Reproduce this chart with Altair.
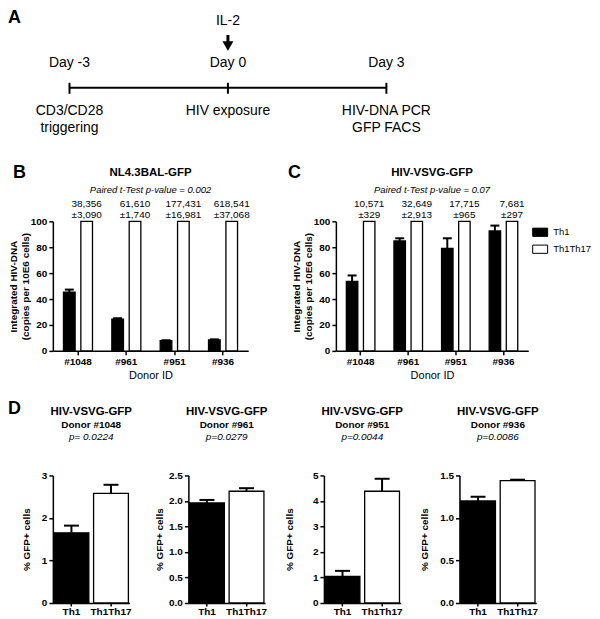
import altair as alt
import pandas as pd

FONT = "Liberation Sans"

# ---------------- Panel A : timeline ----------------
days = [-3, 0, 3]
day_labels = ["Day -3", "Day 0", "Day 3"]
event_line1 = ["CD3/CD28", "HIV exposure", "HIV-DNA PCR"]
event_line2 = ["triggering", "", "GFP FACS"]
il2_day = [0]
il2_label = ["IL-2"]

# ---------------- Panels B & C ----------------
donors = ["#1048", "#961", "#951", "#936"]
cell_types = ["Th1", "Th1Th17"]

b_th1 = [45.4, 24.4, 7.8, 8.5]
b_th1_err = [1.9, 0.8, 0.4, 0.4]
b_th1th17 = [100, 100, 100, 100]
b_copies = ["38,356", "61,610", "177,431", "618,541"]
b_sd = ["±3,090", "±1,740", "±16,981", "±37,068"]

c_th1 = [53.6, 84.9, 79.0, 92.6]
c_th1_err = [4.6, 2.0, 7.9, 4.1]
c_th1th17 = [100, 100, 100, 100]
c_copies = ["10,571", "32,649", "17,715", "7,681"]
c_sd = ["±329", "±2,913", "±965", "±297"]

bc_yticks = [0, 20, 40, 60, 80, 100]

# ---------------- Panel D ----------------
d_donors = ["#1048", "#961", "#951", "#936"]
d_th1 = [1.65, 1.96, 1.04, 1.20]
d_th1_err = [0.17, 0.06, 0.22, 0.05]
d_th1th17 = [2.58, 2.19, 4.38, 1.44]
d_th1th17_err = [0.20, 0.06, 0.49, 0.01]
d_pvalues = ["p= 0.0224", "p=0.0279", "p=0.0044", "p=0.0086"]
d_ymax = [3, 2.5, 5, 1.5]
d_yticks = [[0, 1, 2, 3], [0, 0.5, 1, 1.5, 2, 2.5], [0, 1, 2, 3, 4, 5], [0, 0.5, 1, 1.5]]
d_yfmt = [".0f", ".1f", ".0f", ".1f"]
d_titlepad = [10, 4, 18, 10]

LEFT = -45  # x of panel letters, relative to first plot of each row


def label(text, x, y, size, weight="normal", style="normal", align="center", baseline="middle"):
    return alt.Chart(pd.DataFrame({"t": [text]})).mark_text(
        font=FONT, fontSize=size, fontWeight=weight, fontStyle=style,
        align=align, baseline=baseline, color="black"
    ).encode(text="t:N", x=alt.value(x), y=alt.value(y))


# ---------- A ----------
WA, HA = 540, 137
xa = alt.Scale(domain=[-3.315, 6.874], nice=False, zero=False)
tl = pd.DataFrame({"day": days, "lab": day_labels, "l1": event_line1, "l2": event_line2})
XA = alt.X("day:Q", scale=xa, axis=None)
span = pd.DataFrame({"s": [days[0]], "e": [days[-1]]})
a_line = alt.Chart(span).mark_rule(strokeWidth=2.2, color="black").encode(
    x=alt.X("s:Q", scale=xa, axis=None), x2="e:Q", y=alt.value(79))
a_ticks = alt.Chart(tl).mark_rule(strokeWidth=2, color="black").encode(
    x=XA, y=alt.value(74), y2=alt.value(85))
a_days = alt.Chart(tl).mark_text(font=FONT, fontSize=14, color="black").encode(
    x=XA, y=alt.value(54), text="lab:N")
a_ev1 = alt.Chart(tl).mark_text(font=FONT, fontSize=14, color="black").encode(
    x=XA, y=alt.value(102), text="l1:N")
a_ev2 = alt.Chart(tl).mark_text(font=FONT, fontSize=14, color="black").encode(
    x=XA, y=alt.value(119), text="l2:N")
il2 = alt.Chart(pd.DataFrame({"day": il2_day, "lab": il2_label}))
a_il2 = il2.mark_text(font=FONT, fontSize=14, color="black").encode(
    x=XA, y=alt.value(12), text="lab:N")
a_stem = il2.mark_rule(strokeWidth=3, color="black").encode(
    x=XA, y=alt.value(26), y2=alt.value(34))
a_head = il2.mark_point(shape="triangle-down", filled=True, size=121, color="black", opacity=1).encode(
    x=XA, y=alt.value(37))
panelA = alt.layer(
    a_line, a_ticks, a_days, a_ev1, a_ev2, a_il2, a_stem, a_head,
    label("A", LEFT, 0, 18, "bold", align="left", baseline="top"),
).properties(width=WA, height=HA)


# ---------- B / C ----------
def donor_panel(th1, err, th17, copies, sd, letter, letter_x, title, subtitle, W, show_legend):
    H = 130
    bars = pd.DataFrame({
        "donor": donors * 2,
        "cell": ["Th1"] * len(donors) + ["Th1Th17"] * len(donors),
        "value": th1 + th17,
    })
    errs = pd.DataFrame({"donor": donors, "cell": ["Th1"] * len(donors), "mean": th1, "err": err})
    ann = pd.DataFrame({"donor": donors, "cell": ["Th1Th17"] * len(donors), "top": th17,
                        "copies": copies, "sd": sd})
    yscale = alt.Scale(domain=[0, 100], nice=False)
    X = alt.X("donor:N", sort=donors, scale=alt.Scale(paddingInner=0.4, paddingOuter=0.22),
              axis=alt.Axis(title="Donor ID", titleFontSize=11, titleFontWeight="normal",
                            titlePadding=3, labelOverlap=False))
    XO = alt.XOffset("cell:N", sort=cell_types,
                     scale=alt.Scale(domain=cell_types, paddingInner=0.33, paddingOuter=0))
    if show_legend:
        leg = alt.Legend(orient="none", legendX=197, legendY=3, title=None,
                         symbolType="M-1,-0.55H1V0.55H-1Z", symbolSize=225,
                         symbolStrokeColor="black", symbolStrokeWidth=1, symbolOpacity=1,
                         labelFont=FONT, labelFontSize=9.5, labelOffset=5, rowPadding=2,
                         padding=0)
    else:
        leg = None
    fill = alt.Fill("cell:N", scale=alt.Scale(domain=cell_types, range=["black", "white"]),
                    legend=leg)
    b = alt.Chart(bars).mark_bar(stroke="black", strokeWidth=1.3, opacity=1).encode(
        x=X, xOffset=XO,
        y=alt.Y("value:Q", scale=yscale,
                axis=alt.Axis(values=bc_yticks, title=["Integrated HIV-DNA", "(copies per 10E6 cells)"],
                              titleFontSize=10, titleFontWeight="bold", titleLineHeight=12,
                              titlePadding=0, labelOverlap=False, labelSeparation=0,
                              tickCount=6)),
        fill=fill,
    )
    e_base = alt.Chart(errs).transform_calculate(hi="datum.mean + datum.err")
    e_rule = e_base.mark_rule(strokeWidth=2, color="black").encode(
        x=X, xOffset=XO, y=alt.Y("mean:Q", scale=yscale), y2="hi:Q")
    e_cap = e_base.mark_tick(thickness=2, size=9, color="black", opacity=1).encode(
        x=X, xOffset=XO, y=alt.Y("hi:Q", scale=yscale))
    t1 = alt.Chart(ann).mark_text(font=FONT, fontSize=10, color="black", dy=-17).encode(
        x=X, xOffset=XO, y=alt.Y("top:Q", scale=yscale), text="copies:N")
    t2 = alt.Chart(ann).mark_text(font=FONT, fontSize=10, color="black", dy=-6).encode(
        x=X, xOffset=XO, y=alt.Y("top:Q", scale=yscale), text="sd:N")
    return alt.layer(
        b, e_rule, e_cap, t1, t2,
        label(letter, letter_x, -48, 18, "bold", align="left"),
        label(title, W / 2, -48, 11.5, "bold"),
        label(subtitle, W / 2, -31, 9.5, style="italic"),
    ).properties(width=W, height=H)


panelB = donor_panel(b_th1, b_th1_err, b_th1th17, b_copies, b_sd, "B", -40, "NL4.3BAL-GFP",
                     "Paired t-Test p-value = 0.002", 196, False)
panelC = donor_panel(c_th1, c_th1_err, c_th1th17, c_copies, c_sd, "C", -48, "HIV-VSVG-GFP",
                     "Paired t-Test p-value = 0.07", 193, True)


# ---------- D ----------
def gfp_panel(i):
    W, H = 77, 128
    df = pd.DataFrame({"cell": cell_types, "mean": [d_th1[i], d_th1th17[i]],
                       "err": [d_th1_err[i], d_th1th17_err[i]]})
    yscale = alt.Scale(domain=[0, d_ymax[i]], nice=False)
    X = alt.X("cell:N", sort=cell_types, scale=alt.Scale(paddingInner=0.12, paddingOuter=0.03),
              axis=alt.Axis(title=None, tickSize=3, labelPadding=1, labelOverlap=False))
    base = alt.Chart(df)
    b = base.mark_bar(stroke="black", strokeWidth=1.3, opacity=1).encode(
        x=X,
        y=alt.Y("mean:Q", scale=yscale,
                axis=alt.Axis(values=d_yticks[i], format=d_yfmt[i], title="% GFP+ cells",
                              titleFontSize=10, titleFontWeight="bold",
                              titlePadding=d_titlepad[i], labelOverlap=False,
                              labelSeparation=0, tickCount=len(d_yticks[i]))),
        fill=alt.Fill("cell:N", scale=alt.Scale(domain=cell_types, range=["black", "white"]),
                      legend=None),
    )
    eb = base.transform_calculate(hi="datum.mean + datum.err")
    rule = eb.mark_rule(strokeWidth=2, color="black").encode(
        x=X, y=alt.Y("mean:Q", scale=yscale), y2="hi:Q")
    cap = eb.mark_tick(thickness=2, size=15, color="black", opacity=1).encode(
        x=X, y=alt.Y("hi:Q", scale=yscale))
    layers = [b, rule, cap,
              label("HIV-VSVG-GFP", W / 2, -64, 11.5, "bold"),
              label("Donor " + d_donors[i], W / 2, -51, 10, "bold"),
              label(d_pvalues[i], W / 2, -39, 10, style="italic")]
    if i == 0:
        layers.append(label("D", LEFT, -67, 18, "bold", align="left"))
    return alt.layer(*layers).properties(width=W, height=H)


rowBC = alt.hconcat(panelB, panelC, spacing=88, bounds="flush").resolve_scale(
    fill="independent", x="independent", y="independent", xOffset="independent")
rowD = alt.hconcat(*[gfp_panel(i) for i in range(4)], spacing=59, bounds="flush").resolve_scale(
    fill="independent", x="independent", y="independent")

chart = alt.vconcat(panelA, rowBC, rowD, spacing=19).resolve_scale(
    fill="independent", x="independent", y="independent", xOffset="independent"
).properties(
    padding={"left": 0, "top": 0, "right": 0, "bottom": 0}
).configure(font=FONT).configure_view(stroke=None).configure_axis(
    domainColor="black", domainWidth=1.5, tickColor="black", tickWidth=1.5, tickSize=4,
    labelFont=FONT, labelFontSize=10, labelFontWeight="bold", labelColor="black",
    titleFont=FONT, titleColor="black", grid=False, labelPadding=2,
    labelOverlap=False, labelFlush=False
).configure_axisX(labelAngle=0)

chart.save("out.html", embed_options={"renderer": "svg", "actions": False})
